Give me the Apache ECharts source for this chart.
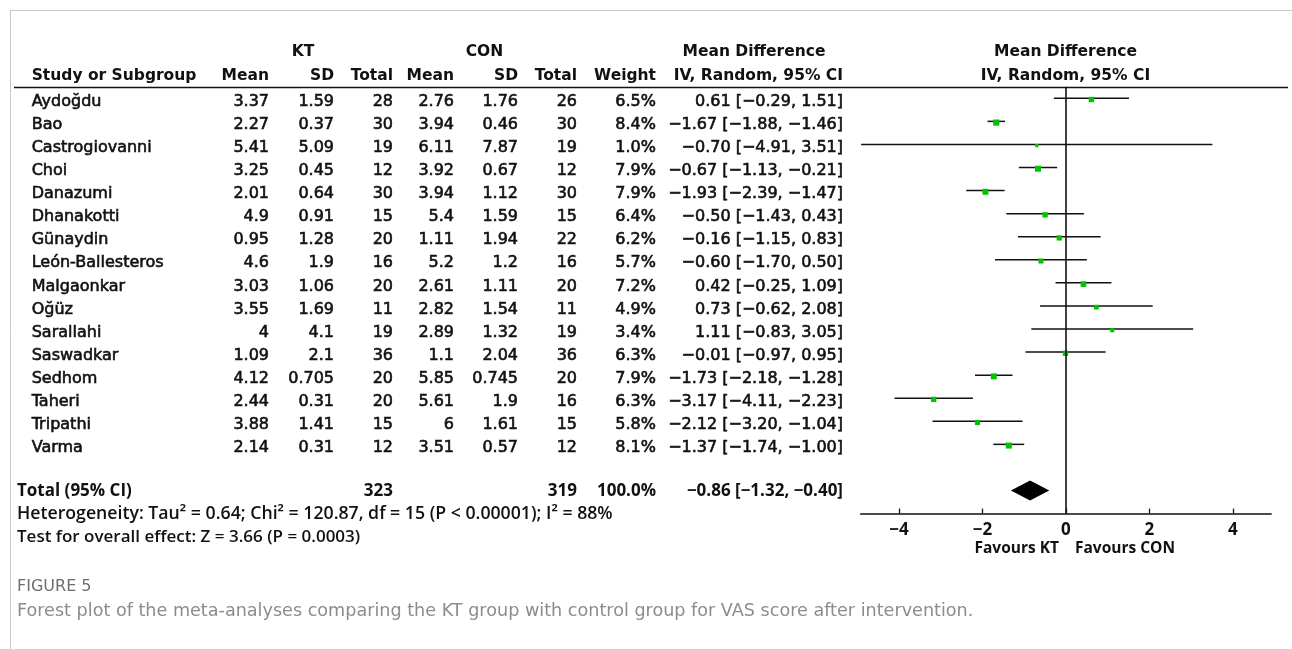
<!DOCTYPE html>
<html>
<head>
<meta charset="utf-8">
<script src="https://cdn.jsdelivr.net/npm/echarts@6/dist/echarts.min.js"></script>
<style>
html,body{margin:0;padding:0;background:#fff;}
#chart{width:1292px;height:649px;}
</style>
</head>
<body>
<div id="chart"></div>
<script>
// ---------------- data ----------------
const studies = ['Aydoğdu','Bao','Castrogiovanni','Choi','Danazumi','Dhanakotti','Günaydin','León-Ballesteros','Malgaonkar','Oğüz','Sarallahi','Saswadkar','Sedhom','Taheri','Tripathi','Varma'];
const ktMean = [3.37,2.27,5.41,3.25,2.01,4.9,0.95,4.6,3.03,3.55,4,1.09,4.12,2.44,3.88,2.14];
const ktSD   = [1.59,0.37,5.09,0.45,0.64,0.91,1.28,1.9,1.06,1.69,4.1,2.1,0.705,0.31,1.41,0.31];
const ktN    = [28,30,19,12,30,15,20,16,20,11,19,36,20,20,15,12];
const conMean= [2.76,3.94,6.11,3.92,3.94,5.4,1.11,5.2,2.61,2.82,2.89,1.1,5.85,5.61,6,3.51];
const conSD  = [1.76,0.46,7.87,0.67,1.12,1.59,1.94,1.2,1.11,1.54,1.32,2.04,0.745,1.9,1.61,0.57];
const conN   = [26,30,19,12,30,15,22,16,20,11,19,36,20,16,15,12];
const weight = [6.5,8.4,1.0,7.9,7.9,6.4,6.2,5.7,7.2,4.9,3.4,6.3,7.9,6.3,5.8,8.1];
const md     = [0.61,-1.67,-0.70,-0.67,-1.93,-0.50,-0.16,-0.60,0.42,0.73,1.11,-0.01,-1.73,-3.17,-2.12,-1.37];
const ciLow  = [-0.29,-1.88,-4.91,-1.13,-2.39,-1.43,-1.15,-1.70,-0.25,-0.62,-0.83,-0.97,-2.18,-4.11,-3.20,-1.74];
const ciHigh = [1.51,-1.46,3.51,-0.21,-1.47,0.43,0.83,0.50,1.09,2.08,3.05,0.95,-1.28,-2.23,-1.04,-1.00];
const totalKtN = 323;
const totalConN = 319;
const totalWeight = 100.0;
const totalMd = -0.86;
const totalLow = -1.32;
const totalHigh = -0.40;
const axisTicks = [-4,-2,0,2,4];
const heterogeneityText = 'Heterogeneity: Tau² = 0.64; Chi² = 120.87, df = 15 (P < 0.00001); I² = 88%';
const overallText = 'Test for overall effect: Z = 3.66 (P = 0.0003)';
const captionTitle = 'FIGURE 5';
const captionText = 'Forest plot of the meta-analyses comparing the KT group with control group for VAS score after intervention.';

// ---------------- layout ----------------
const rowH = 23.07, row0 = 98.3;
const TOTAL_ROW = 17;
const FONT = "'DejaVu Sans'";
const FONT2 = "'Open Sans'";
const cols = { study:31.7, ktMean:269, ktSD:334, ktN:393, conMean:454, conSD:518, conN:577, weight:656, ci:843 };

function fmt(v){ return (v < 0 ? '−' : '') + Math.abs(v).toFixed(2); }
function ciStr(m,l,h){ return fmt(m) + ' [' + fmt(l) + ', ' + fmt(h) + ']'; }

function txt(x, y, text, align, opts){
  opts = opts || {};
  const st = {
    text:text, textAlign:align, textVerticalAlign:'middle',
    fontSize: opts.size || 16, fontFamily: opts.family || FONT, fontWeight: opts.weight || 'normal',
    fill: opts.fill || '#111' };
  if (opts.stroke) { st.stroke = opts.fill || '#111'; st.lineWidth = opts.stroke; }
  return { type:'text', x:x, y:y, silent:true, style:st };
}

const chart = echarts.init(document.getElementById('chart'), null, {renderer:'canvas'});

const hdr = {size:15.5, weight:'bold'};
const row = {size:16, stroke:0.6};
const low = {size:17.7, family:FONT2, weight:600};
const graphics = [
  {type:'line', shape:{x1:10, y1:10.5, x2:1292, y2:10.5}, style:{stroke:'#c8c8c8', lineWidth:1}, silent:true},
  {type:'line', shape:{x1:10.5, y1:10.5, x2:10.5, y2:649}, style:{stroke:'#c8c8c8', lineWidth:1}, silent:true},
  {type:'line', shape:{x1:14, y1:87.5, x2:1288, y2:87.5}, style:{stroke:'#111', lineWidth:1.5}, silent:true},
  txt(303, 51.7, 'KT', 'center', hdr),
  txt(484.5, 51.7, 'CON', 'center', hdr),
  txt(754, 51.7, 'Mean Difference', 'center', hdr),
  txt(1065.5, 51.7, 'Mean Difference', 'center', hdr),
  txt(cols.study, 75.8, 'Study or Subgroup', 'left', hdr),
  txt(cols.ktMean, 75.8, 'Mean', 'right', hdr),
  txt(cols.ktSD, 75.8, 'SD', 'right', hdr),
  txt(cols.ktN, 75.8, 'Total', 'right', hdr),
  txt(cols.conMean, 75.8, 'Mean', 'right', hdr),
  txt(cols.conSD, 75.8, 'SD', 'right', hdr),
  txt(cols.conN, 75.8, 'Total', 'right', hdr),
  txt(cols.weight, 75.8, 'Weight', 'right', hdr),
  txt(cols.ci, 75.8, 'IV, Random, 95% CI', 'right', hdr),
  txt(1065.5, 75.8, 'IV, Random, 95% CI', 'center', hdr),
  txt(17, 513.5, heterogeneityText, 'left', low),
  txt(17, 537, overallText, 'left', {size:17, family:FONT2, weight:600}),
  txt(1059, 549, 'Favours KT', 'right', {size:15.5, family:FONT2, weight:'bold'}),
  txt(1075, 549, 'Favours CON', 'left', {size:15.5, family:FONT2, weight:'bold'}),
  txt(17, 587, captionTitle, 'left', {size:16, family:FONT, fill:'#6e6e6e'}),
  txt(17, 611, captionText, 'left', {size:17.6, family:FONT, weight:'normal', fill:'#8c8c8c'})
];

const option = {
  animation:false,
  backgroundColor:'#fff',
  grid:[
    {left:0, width:1292, top: row0 - 3*rowH, height: 23*rowH, show:false},
    {left:860.7, width:410.5, top: row0 - 0.5*rowH, height: 18.5*rowH, show:false}
  ],
  xAxis:[
    {gridIndex:0, type:'value', min:0, max:1292, show:false},
    {gridIndex:1, type:'value', min:-4.92, max:4.92,
      axisLine:{show:true, onZero:false, lineStyle:{color:'#111', width:1.5}},
      axisTick:{show:true, inside:true, length:5, lineStyle:{color:'#111', width:1.3}, customValues:axisTicks},
      axisLabel:{show:true, margin:8, customValues:axisTicks, color:'#111', fontSize:17, fontWeight:'bold', fontFamily:FONT2,
        formatter:function(v){ return (v<0?'−':'') + Math.abs(v); }},
      splitLine:{show:false}}
  ],
  yAxis:[
    {gridIndex:0, type:'value', min:-3, max:20, inverse:true, show:false},
    {gridIndex:1, type:'value', min:-0.5, max:18, inverse:true, show:false}
  ],
  graphic: graphics,
  series:[
    { // study rows text
      type:'custom', xAxisIndex:0, yAxisIndex:0, silent:true,
      data: studies.map(function(s,i){ return [0,i]; }),
      renderItem:function(params, api){
        const i = params.dataIndex;
        const y = api.coord([0, api.value(1)])[1] + 3.5;
        return { type:'group', children:[
          txt(cols.study, y, studies[i], 'left', row),
          txt(cols.ktMean, y, String(ktMean[i]), 'right', row),
          txt(cols.ktSD, y, String(ktSD[i]), 'right', row),
          txt(cols.ktN, y, String(ktN[i]), 'right', row),
          txt(cols.conMean, y, String(conMean[i]), 'right', row),
          txt(cols.conSD, y, String(conSD[i]), 'right', row),
          txt(cols.conN, y, String(conN[i]), 'right', row),
          txt(cols.weight, y, weight[i].toFixed(1) + '%', 'right', row),
          txt(cols.ci, y, ciStr(md[i], ciLow[i], ciHigh[i]), 'right', row)
        ]};
      }
    },
    { // total row text
      type:'custom', xAxisIndex:0, yAxisIndex:0, silent:true,
      data:[[0, TOTAL_ROW]],
      renderItem:function(params, api){
        const y = api.coord([0, api.value(1)])[1] + 0.5;
        const o = {size:17, family:FONT2, weight:'bold'};
        return { type:'group', children:[
          txt(17, y, 'Total (95% CI)', 'left', o),
          txt(cols.ktN, y, String(totalKtN), 'right', o),
          txt(cols.conN, y, String(totalConN), 'right', o),
          txt(cols.weight, y, totalWeight.toFixed(1) + '%', 'right', o),
          txt(cols.ci, y, ciStr(totalMd, totalLow, totalHigh), 'right', o)
        ]};
      }
    },
    { // study CIs and squares
      type:'custom', xAxisIndex:1, yAxisIndex:1, silent:true,
      data: md.map(function(m,i){ return [m, i, ciLow[i], ciHigh[i], weight[i]]; }),
      renderItem:function(params, api){
        const r = api.value(1);
        const c = api.coord([api.value(0), r]);
        const l = api.coord([api.value(2), r]);
        const h = api.coord([api.value(3), r]);
        const s = 2.8 + 0.4 * api.value(4);
        return { type:'group', children:[
          {type:'line', shape:{x1:l[0], y1:c[1], x2:h[0], y2:c[1]}, style:{stroke:'#111', lineWidth:1.5}},
          {type:'rect', shape:{x:c[0]-s/2, y:c[1]+1.2-s/2, width:s, height:s}, style:{fill:'#00c400'}}
        ]};
      },
      markLine:{
        silent:true, symbol:['none','none'], label:{show:false},
        lineStyle:{color:'#111', width:1.6, type:'solid'},
        data:[{xAxis:0}]
      }
    },
    { // pooled diamond
      type:'custom', xAxisIndex:1, yAxisIndex:1, silent:true,
      data:[[totalMd, TOTAL_ROW, totalLow, totalHigh]],
      renderItem:function(params, api){
        const r = api.value(1);
        const c = api.coord([api.value(0), r]);
        const l = api.coord([api.value(2), r]);
        const h = api.coord([api.value(3), r]);
        return {type:'polygon', shape:{points:[[l[0],c[1]],[c[0],c[1]-10],[h[0],c[1]],[c[0],c[1]+10]]}, style:{fill:'#000'}};
      }
    }
  ]
};
chart.setOption(option);
</script>
</body>
</html>
